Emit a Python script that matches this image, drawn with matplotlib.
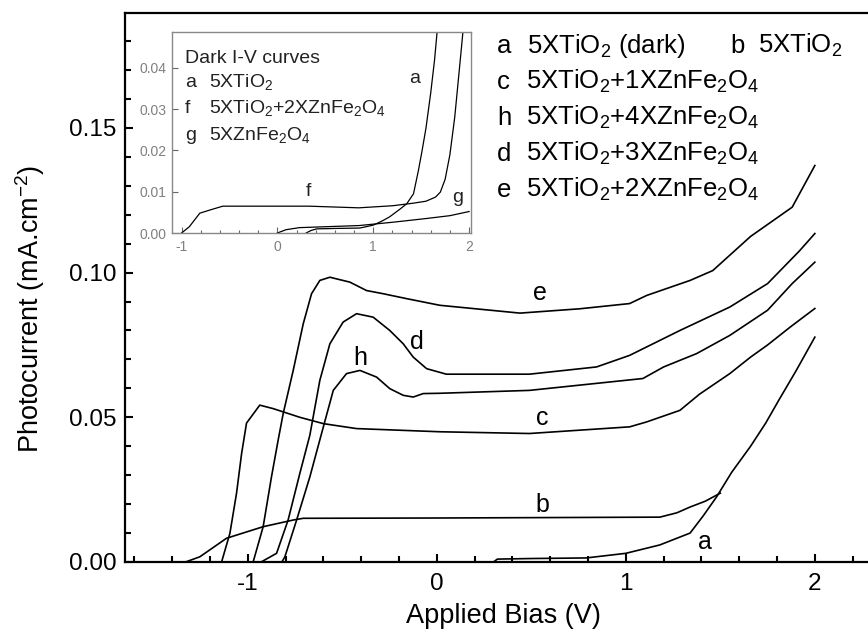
import matplotlib
matplotlib.use("Agg")
import matplotlib.pyplot as plt
from matplotlib.ticker import MultipleLocator, FormatStrFormatter

plt.rcParams['font.family'] = ['Liberation Sans', 'DejaVu Sans']
plt.rcParams['mathtext.fontset'] = 'custom'
plt.rcParams['mathtext.rm'] = 'Liberation Sans'
plt.rcParams['mathtext.default'] = 'regular'
plt.rcParams['axes.unicode_minus'] = False

# main photocurrent curves (V, mA/cm2)
a_x = [0.30, 0.32, 0.50, 0.79, 1.00, 1.18, 1.34, 1.41, 1.48, 1.56, 1.66, 1.74, 1.81, 1.90, 2.00]
a_y = [0.0, 0.0010, 0.0012, 0.0014, 0.0030, 0.0059, 0.0100, 0.0160, 0.0225, 0.0310, 0.0400, 0.0480, 0.0560, 0.0660, 0.0777]

b_x = [-1.33, -1.254, -1.113, -0.919, -0.76, -0.707, 0.0, 1.18, 1.27, 1.34, 1.42, 1.50]
b_y = [0.0, 0.0018, 0.0082, 0.0122, 0.0145, 0.0151, 0.0152, 0.0155, 0.0170, 0.0190, 0.0210, 0.0238]

c_x = [-1.139, -1.095, -1.06, -1.033, -1.007, -0.937, -0.866, -0.725, -0.60, -0.425, 0.016, 0.49,
       1.02, 1.11, 1.286, 1.39, 1.55, 1.66, 1.75, 1.87, 2.00]
c_y = [0.0, 0.0099, 0.0237, 0.0375, 0.0480, 0.0542, 0.0530, 0.0500, 0.0478, 0.0461, 0.0450, 0.0444,
       0.0467, 0.0484, 0.0524, 0.0580, 0.0651, 0.0708, 0.0750, 0.0812, 0.0876]

d_x = [-0.93, -0.848, -0.787, -0.725, -0.672, -0.619, -0.566, -0.496, -0.425, -0.337, -0.249, -0.178, -0.125,
       -0.054, 0.05, 0.49, 0.845, 1.02, 1.286, 1.55, 1.75, 1.92, 2.00]
d_y = [0.0, 0.0030, 0.0145, 0.0306, 0.0438, 0.0628, 0.0754, 0.0829, 0.0858, 0.0846, 0.0800, 0.0754, 0.0708,
       0.0668, 0.0649, 0.0649, 0.0674, 0.0714, 0.0800, 0.0881, 0.0962, 0.1076, 0.1135]

e_x = [-0.972, -0.919, -0.875, -0.84, -0.813, -0.76, -0.707, -0.663, -0.619, -0.566, -0.46, -0.372, -0.284,
       -0.16, 0.016, 0.44, 0.757, 1.02, 1.11, 1.34, 1.46, 1.66, 1.88, 2.00]
e_y = [0.0, 0.0122, 0.0294, 0.0420, 0.0513, 0.0662, 0.0823, 0.0927, 0.0973, 0.0984, 0.0967, 0.0938, 0.0927,
       0.0910, 0.0887, 0.0860, 0.0875, 0.0893, 0.0921, 0.0973, 0.1007, 0.1125, 0.1226, 0.1370]

h_x = [-0.82, -0.804, -0.742, -0.672, -0.61, -0.548, -0.478, -0.407, -0.319, -0.249, -0.178, -0.125, -0.072,
       0.016, 0.49, 1.09, 1.20, 1.374, 1.55, 1.75, 1.88, 2.00]
h_y = [0.0, 0.0018, 0.0145, 0.0294, 0.0444, 0.0593, 0.0651, 0.0662, 0.0639, 0.0599, 0.0576, 0.0570, 0.0582,
       0.0583, 0.0593, 0.0634, 0.0674, 0.0720, 0.0783, 0.0870, 0.0962, 0.1036]

# inset dark I-V curves
ia_x = [0.30, 0.35, 0.41, 0.60, 0.86, 1.00, 1.10, 1.17, 1.28, 1.35, 1.42, 1.47, 1.51, 1.55, 1.60, 1.64, 1.67]
ia_y = [0.0, 0.0006, 0.0010, 0.0011, 0.0012, 0.0019, 0.0030, 0.0039, 0.0058, 0.0071, 0.0095, 0.0150, 0.0200, 0.0254, 0.0340, 0.0420, 0.0497]

if_x = [-1.00, -0.92, -0.81, -0.70, -0.57, -0.19, 0.33, 0.85, 1.20, 1.41, 1.55, 1.65, 1.70, 1.75, 1.80, 1.85, 1.90, 1.94]
if_y = [0.0, 0.0015, 0.0048, 0.0056, 0.0065, 0.0065, 0.0065, 0.0061, 0.0066, 0.0072, 0.0077, 0.0087, 0.0099, 0.0130, 0.0190, 0.0280, 0.0400, 0.0497]

ig_x = [0.0, 0.09, 0.23, 0.85, 1.20, 1.55, 1.80, 2.00]
ig_y = [0.0, 0.0008, 0.0013, 0.0018, 0.0026, 0.0035, 0.0042, 0.0052]

W, H = 868, 634
fig = plt.figure(figsize=(W / 100, H / 100), dpi=100)


def fpos(x, y):
    return x / W, 1 - y / H


ax = fig.add_axes([125 / W, (H - 562) / H, (881 - 125) / W, (562 - 13) / H])
for xs, ys in [(a_x, a_y), (b_x, b_y), (c_x, c_y), (d_x, d_y), (e_x, e_y), (h_x, h_y)]:
    ax.plot(xs, ys, color='black', lw=1.2, solid_joinstyle='round')

ax.set_xlim(-1.65, 2.35)
ax.set_ylim(0, 0.1897)
ax.xaxis.set_major_locator(MultipleLocator(1))
ax.xaxis.set_minor_locator(MultipleLocator(0.2))
ax.yaxis.set_major_locator(MultipleLocator(0.05))
ax.yaxis.set_minor_locator(MultipleLocator(0.01))
ax.yaxis.set_major_formatter(FormatStrFormatter('%.2f'))
ax.tick_params(which='both', direction='in', top=False, right=False, width=1.5, labelsize=17.5)
ax.tick_params(which='major', length=6)
ax.tick_params(which='minor', length=4)
ax.tick_params(axis='x', pad=8)
ax.tick_params(axis='y', pad=6)
for s in ax.spines.values():
    s.set_linewidth(1.6)
ax.set_xlabel('Applied Bias (V)', fontsize=19.5, labelpad=6)
fig.text(*fpos(30, 309), 'Photocurrent (mA.cm$^{-2}$)', rotation=90, fontsize=19.5, ha='center', va='center')

# curve letters
for lab, x, y in [('e', 0.545, 0.0928), ('d', -0.107, 0.076), ('h', -0.407, 0.0704),
                  ('c', 0.56, 0.0497), ('b', 0.56, 0.0197), ('a', 1.418, 0.007)]:
    ax.text(x, y, lab, fontsize=18, ha='center', va='center')

# key text
key_letters = ['c', 'h', 'd', 'e']
key_names = ['5XTiO$_2$+1XZnFe$_2$O$_4$', '5XTiO$_2$+4XZnFe$_2$O$_4$',
             '5XTiO$_2$+3XZnFe$_2$O$_4$', '5XTiO$_2$+2XZnFe$_2$O$_4$']
fig.text(*fpos(497, 53), 'a', fontsize=18.5, va='baseline')
fig.text(*fpos(527, 53), '5XTiO$_2$ (dark)', fontsize=18.5, va='baseline')
fig.text(*fpos(730, 53), 'b', fontsize=18.5, va='baseline')
fig.text(*fpos(758, 53), '5XTiO$_2$', fontsize=18.5, va='baseline')
for i, (l, n) in enumerate(zip(key_letters, key_names)):
    yb = 89 + 36 * i
    fig.text(*fpos(497, yb), l, fontsize=18.5, va='baseline')
    fig.text(*fpos(526, yb), n, fontsize=18.5, va='baseline')

# inset
ins = fig.add_axes([172 / W, (H - 233) / H, (471 - 172) / W, (233 - 32) / H])
for xs, ys in [(ia_x, ia_y), (if_x, if_y), (ig_x, ig_y)]:
    ins.plot(xs, ys, color='black', lw=0.9)
ins.set_xlim(-1.1, 2.02)
ins.set_ylim(0, 0.0487)
ins.xaxis.set_major_locator(MultipleLocator(1))
ins.xaxis.set_minor_locator(MultipleLocator(0.2))
ins.yaxis.set_major_locator(MultipleLocator(0.01))
ins.yaxis.set_major_formatter(FormatStrFormatter('%.2f'))
ins.tick_params(which='both', direction='in', labelsize=10, labelcolor='#808080', color='#666666', width=0.8)
ins.tick_params(which='major', length=4)
ins.tick_params(which='minor', length=2.5)
ins.tick_params(axis='x', pad=5)
ins.tick_params(axis='y', pad=4)
for s in ins.spines.values():
    s.set_color('#888888')
    s.set_linewidth(1.0)

ins_col = '#222222'
fig.text(*fpos(185, 63), 'Dark I-V curves', fontsize=14, va='baseline', color=ins_col)
for lab, name, yb in [('a', '5XTiO$_2$', 87), ('f', '5XTiO$_2$+2XZnFe$_2$O$_4$', 113), ('g', '5XZnFe$_2$O$_4$', 140)]:
    fig.text(*fpos(185, yb), lab, fontsize=14, va='baseline', color=ins_col)
    fig.text(*fpos(209, yb), name, fontsize=14, va='baseline', color=ins_col)
ins.text(1.43, 0.0375, 'a', fontsize=14, ha='center', va='center', color=ins_col)
ins.text(0.32, 0.0100, 'f', fontsize=14, ha='center', va='center', color=ins_col)
ins.text(1.88, 0.0085, 'g', fontsize=14, ha='center', va='center', color=ins_col)

fig.savefig('out.png', dpi=100)
